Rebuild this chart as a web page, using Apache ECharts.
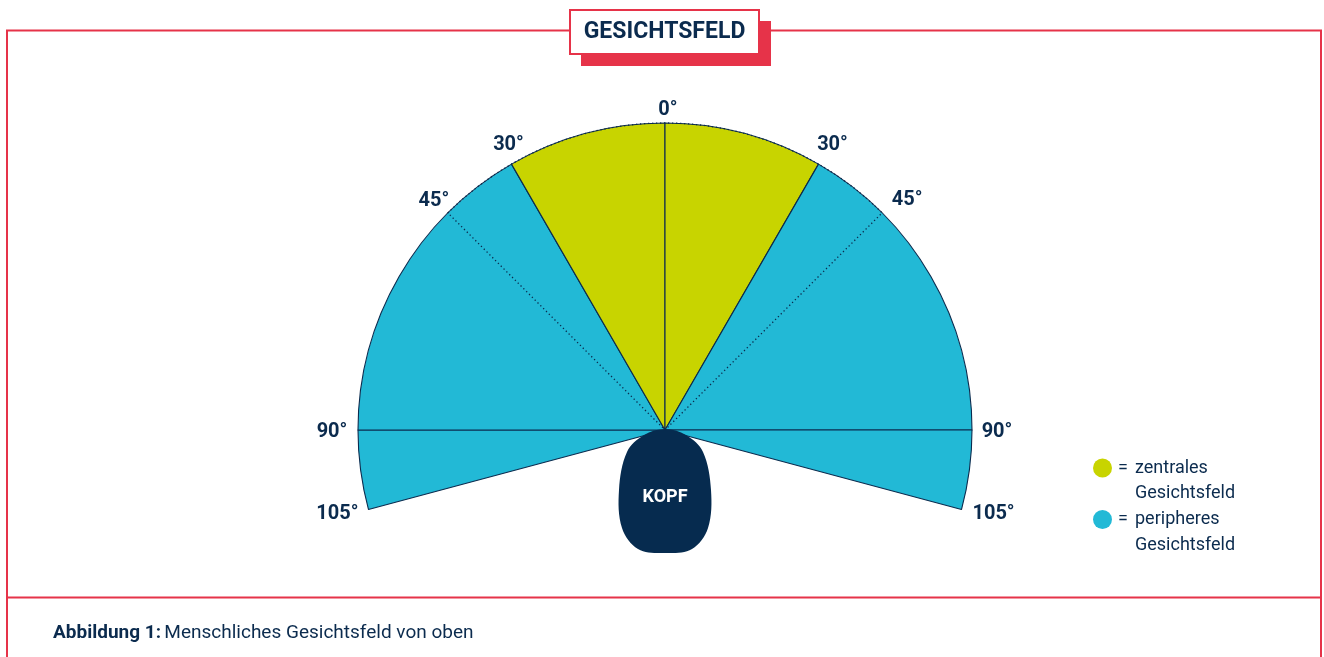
<!DOCTYPE html>
<html>
<head>
<meta charset="utf-8">
<script src="https://cdn.jsdelivr.net/npm/echarts@6/dist/echarts.min.js"></script>
<style>html,body{margin:0;padding:0;background:#fff}#c{width:1324px;height:657px}</style>
</head>
<body>
<div id="c"></div>
<script>
// ---- data ----
const sliceEdges = [-105, -90, -30, 0, 30, 90, 105];          // solid boundary angles (deg from straight ahead)
const sliceZones = ['peripheral', 'peripheral', 'central', 'central', 'peripheral', 'peripheral'];
const dottedEdges = [-45, 45];                                 // dotted boundary angles
const tickAngles = [-105, -90, -45, -30, 0, 30, 45, 90, 105];
const tickLabels = ['105°', '90°', '45°', '30°', '0°', '30°', '45°', '90°', '105°'];
const legendNames = ['zentrales', 'peripheres'];
const legendZones = ['central', 'peripheral'];
const titleText = 'GESICHTSFELD';
const headText = 'KOPF';
const captionBold = 'Abbildung 1:';
const captionText = 'Menschliches Gesichtsfeld von oben';

// ---- style ----
const NAVY = '#0b2b4e';
const HEAD = '#062b4f';
const RED = '#e63349';
const zoneColor = { central: '#c8d400', peripheral: '#22b9d6' };
const FONT = 'Roboto';
const CX = 665, CY = 430, R = 307;
// pixel offsets of each tick label from the end of its ray (same order as tickAngles)
const tickLabelOffsets = [[-31, 4.5], [-26, 1.5], [-14, -11.5], [-3, -19.5], [3, -13.5], [14, -19.5], [25, -12.5], [25, 1.5], [32, 4.5]];

const chart = echarts.init(document.getElementById('c'), null, { renderer: 'canvas' });

const span = sliceEdges[sliceEdges.length - 1] - sliceEdges[0];
const startAngle = 90 - sliceEdges[0];

const solidData = [];
for (let i = 0; i < sliceEdges.length - 1; i++) {
  solidData.push({
    name: sliceZones[i] + i,
    value: sliceEdges[i + 1] - sliceEdges[i],
    itemStyle: { color: zoneColor[sliceZones[i]], borderColor: NAVY, borderWidth: 1.1 }
  });
}
solidData.push({ name: 'rest', value: 360 - span, itemStyle: { color: 'rgba(0,0,0,0)', borderWidth: 0 } });

const dotBounds = [sliceEdges[0], dottedEdges[0], dottedEdges[1], sliceEdges[sliceEdges.length - 1]];
const dottedData = [
  { name: 'd0', value: dotBounds[1] - dotBounds[0], itemStyle: { color: 'rgba(0,0,0,0)', borderWidth: 0 } },
  { name: 'd1', value: dotBounds[2] - dotBounds[1], itemStyle: { color: 'rgba(0,0,0,0)', borderColor: NAVY, borderWidth: 1.3, borderType: [1.3, 2.7] } },
  { name: 'd2', value: dotBounds[3] - dotBounds[2], itemStyle: { color: 'rgba(0,0,0,0)', borderWidth: 0 } },
  { name: 'd3', value: 360 - span, itemStyle: { color: 'rgba(0,0,0,0)', borderWidth: 0 } }
];

const labelData = tickAngles.map((a, i) => ({ value: [1, a], label: { offset: tickLabelOffsets[i] } }));

const pieCommon = {
  type: 'pie', center: [CX, CY], radius: [0, R], startAngle: startAngle, clockwise: true,
  silent: true, animation: false, label: { show: false }, labelLine: { show: false },
  emphasis: { disabled: true }, avoidLabelOverlap: false
};

const headPts = [[665,429],[686,435],[703,452],[711,490],[708,528],[692,549],[665,553],[638,549],[622,528],[619,490],[627,452],[644,435]];

const graphics = [
  // frame
  { type: 'rect', z: 1, shape: { x: 7, y: 30.5, width: 1314, height: 700 }, style: { fill: 'none', stroke: RED, lineWidth: 2 } },
  { type: 'line', z: 1, shape: { x1: 7, y1: 597.5, x2: 1321, y2: 597.5 }, style: { stroke: RED, lineWidth: 2 } },
  // title box
  { type: 'rect', z: 2, shape: { x: 581, y: 21, width: 190, height: 45 }, style: { fill: RED } },
  { type: 'rect', z: 3, shape: { x: 570, y: 10, width: 189, height: 44 }, style: { fill: '#fff', stroke: RED, lineWidth: 2 } },
  { type: 'text', z: 4, x: 664.5, y: 32.5, style: { text: titleText, fill: NAVY, font: 'bold 23px ' + FONT, align: 'center', verticalAlign: 'middle' } },
  // head
  { type: 'polygon', z: 100, shape: { points: headPts, smooth: 0.35 }, style: { fill: HEAD } },
  { type: 'text', z: 101, x: 665, y: 497, style: { text: headText, fill: '#fff', font: 'bold 18px ' + FONT, align: 'center', verticalAlign: 'middle' } },
  // caption
  { type: 'text', z: 5, x: 53, y: 633, style: {
      text: '{b|' + captionBold + '} {r|' + captionText + '}', verticalAlign: 'middle',
      rich: { b: { font: 'bold 19px ' + FONT, fill: NAVY }, r: { font: '19px ' + FONT, fill: NAVY } } } }
];
// legend
legendNames.forEach((n, i) => {
  const y = 468 + i * 51.5;
  graphics.push({ type: 'circle', z: 5, shape: { cx: 1102.5, cy: y, r: 9.5 }, style: { fill: zoneColor[legendZones[i]] } });
  graphics.push({ type: 'text', z: 5, x: 1118, y: y, style: { text: '=', fill: NAVY, font: '18px ' + FONT, verticalAlign: 'middle' } });
  graphics.push({ type: 'text', z: 5, x: 1135, y: y, style: { text: n, fill: NAVY, font: '18px ' + FONT, verticalAlign: 'middle' } });
  graphics.push({ type: 'text', z: 5, x: 1135, y: y + 25.5, style: { text: 'Gesichtsfeld', fill: NAVY, font: '18px ' + FONT, verticalAlign: 'middle' } });
});

chart.setOption({
  animation: false,
  backgroundColor: '#fff',
  polar: { center: [CX, CY], radius: R },
  angleAxis: { type: 'value', min: -180, max: 180, startAngle: -90, clockwise: true, show: false },
  radiusAxis: { type: 'value', min: 0, max: 1, show: false },
  graphic: { elements: graphics },
  series: [
    Object.assign({}, pieCommon, { name: 'fov', data: solidData, z: 2 }),
    Object.assign({}, pieCommon, { name: 'dotted', data: dottedData, z: 3 }),
    {
      type: 'scatter', coordinateSystem: 'polar', symbolSize: 0, silent: true, z: 4,
      itemStyle: { color: NAVY, opacity: 1 },
      data: labelData,
      label: {
        show: true, position: 'inside', color: NAVY, fontFamily: FONT, fontWeight: 'bold', fontSize: 20,
        textBorderWidth: 0, textBorderColor: 'transparent', opacity: 1,
        formatter: p => tickLabels[p.dataIndex]
      }
    }
  ]
});
</script>
</body>
</html>
